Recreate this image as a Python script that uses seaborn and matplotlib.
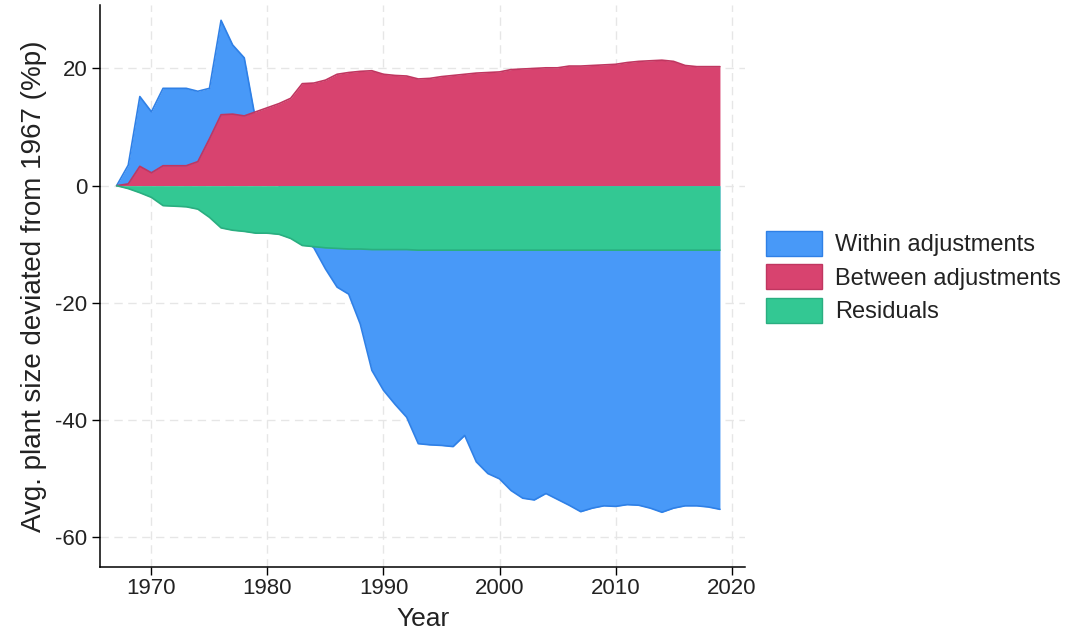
import numpy as np
import pandas as pd
import seaborn as sns
import matplotlib.pyplot as plt
from matplotlib.patches import Patch

# years and decomposition
years = list(range(1967, 2020))

within = [0, 3.5, 15.2, 12.6, 16.6, 16.6, 16.6, 16.1, 16.6, 28.2,
          24.0, 21.8, 11.0, 5.0, 0.0, -5.0, -9.0, -10.6, -14.2, -17.3,
          -18.5, -23.6, -31.5, -34.9, -37.3, -39.5, -44.0, -44.2, -44.3, -44.5,
          -42.6, -47.1, -49.1, -50.0, -52.0, -53.3, -53.6, -52.5, -53.5, -54.5,
          -55.6, -55.0, -54.6, -54.7, -54.4, -54.5, -55.0, -55.7, -55.0, -54.6,
          -54.6, -54.8, -55.2]

between = [0, 0.3, 3.3, 2.2, 3.4, 3.4, 3.4, 4.1, 8.0, 12.1,
           12.2, 11.9, 12.6, 13.3, 14.0, 14.9, 17.4, 17.5, 18.0, 19.0,
           19.3, 19.5, 19.6, 19.0, 18.8, 18.7, 18.2, 18.3, 18.6, 18.8,
           19.0, 19.2, 19.3, 19.4, 19.8, 19.9, 20.0, 20.1, 20.1, 20.4,
           20.4, 20.5, 20.6, 20.7, 21.0, 21.2, 21.3, 21.4, 21.2, 20.5,
           20.3, 20.3, 20.3]

residuals = [0, -0.5, -1.2, -2.0, -3.4, -3.5, -3.6, -4.0, -5.4, -7.2,
             -7.6, -7.8, -8.1, -8.1, -8.3, -9.0, -10.2, -10.4, -10.6, -10.7,
             -10.8, -10.8, -10.9, -10.9, -10.9, -10.9, -11.0, -11.0, -11.0, -11.0,
             -11.0, -11.0, -11.0, -11.0, -11.0, -11.0, -11.0, -11.0, -11.0, -11.0,
             -11.0, -11.0, -11.0, -11.0, -11.0, -11.0, -11.0, -11.0, -11.0, -11.0,
             -11.0, -11.0, -11.0]

labels = ["Within adjustments", "Between adjustments", "Residuals"]
fills = ["#4899F8", "#D8436F", "#33C893"]
edges = ["#2F80E6", "#C03660", "#2AAE80"]

df = pd.DataFrame({"Year": years, labels[0]: within,
                   labels[1]: between, labels[2]: residuals})

sns.set_style("white")
plt.rcParams['font.family'] = ['Liberation Sans', 'DejaVu Sans']
plt.rcParams['axes.unicode_minus'] = False

fig = plt.figure(figsize=(10.68, 6.34), dpi=100)
ax = fig.add_axes([0.094, 0.106, 0.604, 0.886])

# draw each area from zero, later ones on top (edge line stays with its own layer)
for i, (lab, fc, ec) in enumerate(zip(labels, fills, edges)):
    z = 2 + 2 * i
    ax.fill_between(df["Year"], 0, df[lab], color=fc, linewidth=0, zorder=z)
    sns.lineplot(data=df, x="Year", y=lab, color=ec, linewidth=1.2, ax=ax, zorder=z + 1)

ax.set_xlim(1965.6, 2021.2)
ax.set_ylim(-65, 30.8)
ax.set_xticks(range(1970, 2021, 10))
ax.set_yticks([-60, -40, -20, 0, 20])

ax.grid(True, linestyle=(0, (6, 4)), color="#e6e6e6", linewidth=1, zorder=0)
ax.set_axisbelow(True)
for s in ["top", "right"]:
    ax.spines[s].set_visible(False)
for s in ["left", "bottom"]:
    ax.spines[s].set_color("black")
    ax.spines[s].set_linewidth(1.1)

ax.tick_params(axis="both", direction="out", length=6, width=1, color="black",
               labelsize=16, labelcolor="#222222", bottom=True, left=True)
ax.tick_params(axis="x", pad=2)
ax.set_xlabel("Year", fontsize=19, labelpad=6, color="#222222")
ax.set_ylabel("Avg. plant size deviated from 1967 (%p)", fontsize=20, labelpad=6,
              color="#222222")

handles = [Patch(facecolor=fc, edgecolor=ec, linewidth=1) for fc, ec in zip(fills, edges)]
fig.legend(handles, labels, loc="center left", bbox_to_anchor=(0.697, 0.563),
           frameon=False, fontsize=17, handlelength=2.4, handleheight=1.25,
           labelspacing=0.35, handletextpad=0.55, labelcolor="#222222")

fig.savefig("out.png", dpi=100)
